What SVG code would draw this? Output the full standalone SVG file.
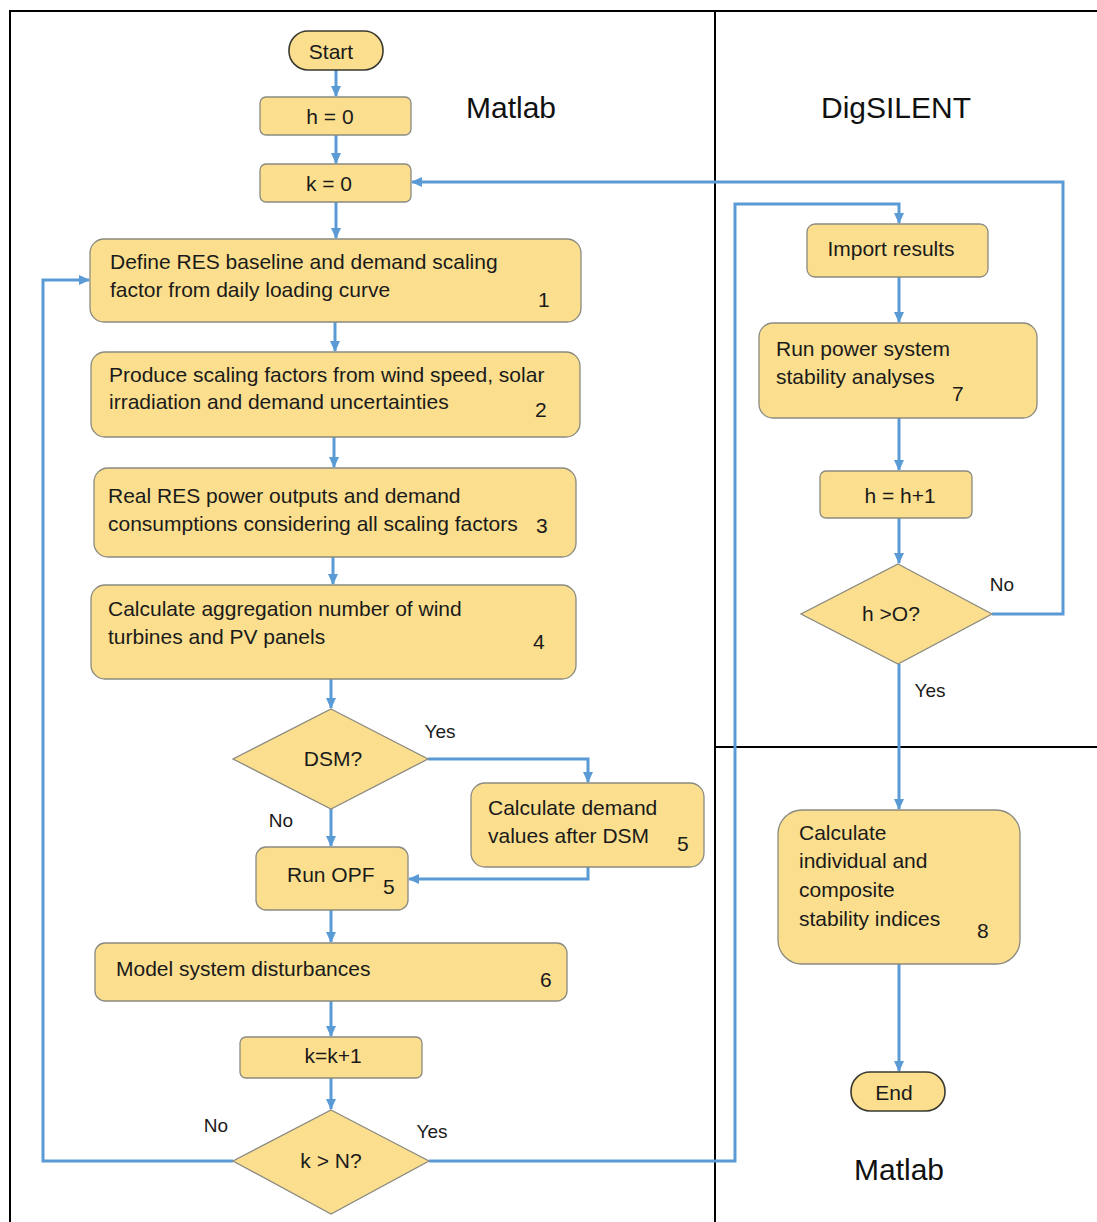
<svg xmlns="http://www.w3.org/2000/svg" width="1097" height="1222" viewBox="0 0 1097 1222">
<style>
.box{fill:#FBDF8E;stroke:#8a8a80;stroke-width:1.3}
.term{fill:#FBDF8E;stroke:#3a3a30;stroke-width:1.6}
.t{font-family:"Liberation Sans",Arial,sans-serif;font-size:21px;fill:#1a1a1a}
.l{font-family:"Liberation Sans",Arial,sans-serif;font-size:19px;fill:#1a1a1a;text-anchor:middle}
.c{text-anchor:middle}
.big{font-family:"Liberation Sans",Arial,sans-serif;font-size:30px;fill:#111;text-anchor:middle}
.frame{stroke:#000;stroke-width:2;fill:none}
.conn{stroke:#5B9BD5;stroke-width:3;fill:none}
</style>
<defs>
<marker id="ah" markerWidth="12" markerHeight="10" refX="10" refY="5" orient="auto" markerUnits="userSpaceOnUse">
<path d="M0,0 L11,5 L0,10 Z" fill="#5B9BD5"/>
</marker>
</defs>
<rect width="1097" height="1222" fill="#fff"/>
<g id="frame">
<path class="frame" d="M10,1222 V11 H1097"/>
<line class="frame" x1="715" y1="11" x2="715" y2="1222"/>
<line class="frame" x1="715" y1="747" x2="1097" y2="747"/>
</g>
<g id="labels">
<text class="big" x="511" y="118">Matlab</text>
<text class="big" x="896" y="118">DigSILENT</text>
<text class="big" x="899" y="1180">Matlab</text>
<text class="l" x="440" y="738">Yes</text>
<text class="l" x="281" y="827">No</text>
<text class="l" x="216" y="1132">No</text>
<text class="l" x="432" y="1138">Yes</text>
<text class="l" x="1002" y="591">No</text>
<text class="l" x="930" y="697">Yes</text>
</g>
<g id="connectors">
<line class="conn" x1="336" y1="70" x2="336" y2="96" marker-end="url(#ah)"/>
<line class="conn" x1="336" y1="135" x2="336" y2="163" marker-end="url(#ah)"/>
<line class="conn" x1="336" y1="202" x2="336" y2="238" marker-end="url(#ah)"/>
<line class="conn" x1="335" y1="322" x2="335" y2="351" marker-end="url(#ah)"/>
<line class="conn" x1="334" y1="437" x2="334" y2="467" marker-end="url(#ah)"/>
<line class="conn" x1="333" y1="557" x2="333" y2="584" marker-end="url(#ah)"/>
<line class="conn" x1="331" y1="679" x2="331" y2="708" marker-end="url(#ah)"/>
<line class="conn" x1="331" y1="809" x2="331" y2="846" marker-end="url(#ah)"/>
<polyline class="conn" points="428,759 588,759 588,782" marker-end="url(#ah)"/>
<polyline class="conn" points="588,867 588,879 409,879" marker-end="url(#ah)"/>
<line class="conn" x1="331" y1="910" x2="331" y2="942" marker-end="url(#ah)"/>
<line class="conn" x1="331" y1="1001" x2="331" y2="1036" marker-end="url(#ah)"/>
<line class="conn" x1="331" y1="1078" x2="331" y2="1109" marker-end="url(#ah)"/>
<polyline class="conn" points="233,1161 43,1161 43,280 89,280" marker-end="url(#ah)"/>
<polyline class="conn" points="429,1161 735,1161 735,204 899,204 899,223" marker-end="url(#ah)"/>
<line class="conn" x1="899" y1="277" x2="899" y2="322" marker-end="url(#ah)"/>
<line class="conn" x1="899" y1="418" x2="899" y2="470" marker-end="url(#ah)"/>
<line class="conn" x1="899" y1="518" x2="899" y2="563" marker-end="url(#ah)"/>
<polyline class="conn" points="992,614 1063,614 1063,182 412,182" marker-end="url(#ah)"/>
<line class="conn" x1="899" y1="664" x2="899" y2="809" marker-end="url(#ah)"/>
<line class="conn" x1="899" y1="964" x2="899" y2="1071" marker-end="url(#ah)"/>
</g>
<g id="start"><rect class="term" x="289" y="31" width="94" height="39" rx="19"/><text class="t c" x="331" y="59">Start</text></g>
<g id="h0"><rect class="box" x="260" y="97" width="151" height="38" rx="6"/><text class="t c" x="330" y="124">h = 0</text></g>
<g id="k0"><rect class="box" x="260" y="164" width="151" height="38" rx="6"/><text class="t c" x="329" y="191">k = 0</text></g>
<g id="step1"><rect class="box" x="90" y="239" width="491" height="83" rx="14"/>
<text class="t" x="110" y="269">Define RES baseline and demand scaling</text>
<text class="t" x="110" y="297">factor from daily loading curve</text>
<text class="t" x="538" y="307">1</text></g>
<g id="step2"><rect class="box" x="91" y="352" width="489" height="85" rx="14"/>
<text class="t" x="109" y="382">Produce scaling factors from wind speed, solar</text>
<text class="t" x="109" y="409">irradiation and demand uncertainties</text>
<text class="t" x="535" y="417">2</text></g>
<g id="step3"><rect class="box" x="94" y="468" width="482" height="89" rx="14"/>
<text class="t" x="108" y="503">Real RES power outputs and demand</text>
<text class="t" x="108" y="531">consumptions considering all scaling factors</text>
<text class="t" x="536" y="533">3</text></g>
<g id="step4"><rect class="box" x="91" y="585" width="485" height="94" rx="14"/>
<text class="t" x="108" y="616">Calculate aggregation number of wind</text>
<text class="t" x="108" y="644">turbines and PV panels</text>
<text class="t" x="533" y="649">4</text></g>
<g id="dsm"><polygon class="box" points="331,709 428,759 331,809 233,759"/><text class="t c" x="333" y="766">DSM?</text></g>
<g id="calcdemand"><rect class="box" x="471" y="783" width="233" height="84" rx="14"/>
<text class="t" x="488" y="815">Calculate demand</text>
<text class="t" x="488" y="843">values after DSM</text>
<text class="t" x="677" y="851">5</text></g>
<g id="opf"><rect class="box" x="256" y="847" width="152" height="63" rx="10"/>
<text class="t" x="287" y="882">Run OPF</text>
<text class="t" x="383" y="894">5</text></g>
<g id="step6"><rect class="box" x="95" y="943" width="472" height="58" rx="10"/>
<text class="t" x="116" y="976">Model system disturbances</text>
<text class="t" x="540" y="987">6</text></g>
<g id="kinc"><rect class="box" x="240" y="1037" width="182" height="41" rx="6"/><text class="t c" x="333" y="1063">k=k+1</text></g>
<g id="kN"><polygon class="box" points="331,1110 429,1161 331,1214 233,1161"/><text class="t c" x="331" y="1168">k &gt; N?</text></g>
<g id="import"><rect class="box" x="807" y="224" width="181" height="53" rx="8"/><text class="t c" x="891" y="256">Import results</text></g>
<g id="step7"><rect class="box" x="759" y="323" width="278" height="95" rx="14"/>
<text class="t" x="776" y="356">Run power system</text>
<text class="t" x="776" y="384">stability analyses</text>
<text class="t" x="952" y="401">7</text></g>
<g id="hinc"><rect class="box" x="820" y="471" width="152" height="47" rx="6"/><text class="t c" x="900" y="503">h = h+1</text></g>
<g id="hO"><polygon class="box" points="898,564 992,614 898,664 801,614"/><text class="t c" x="891" y="621">h &gt;O?</text></g>
<g id="step8"><rect class="box" x="778" y="810" width="242" height="154" rx="24"/>
<text class="t" x="799" y="840">Calculate</text>
<text class="t" x="799" y="868">individual and</text>
<text class="t" x="799" y="897">composite</text>
<text class="t" x="799" y="926">stability indices</text>
<text class="t" x="977" y="938">8</text></g>
<g id="end"><rect class="term" x="851" y="1072" width="94" height="39" rx="19"/><text class="t c" x="894" y="1100">End</text></g>
</svg>
